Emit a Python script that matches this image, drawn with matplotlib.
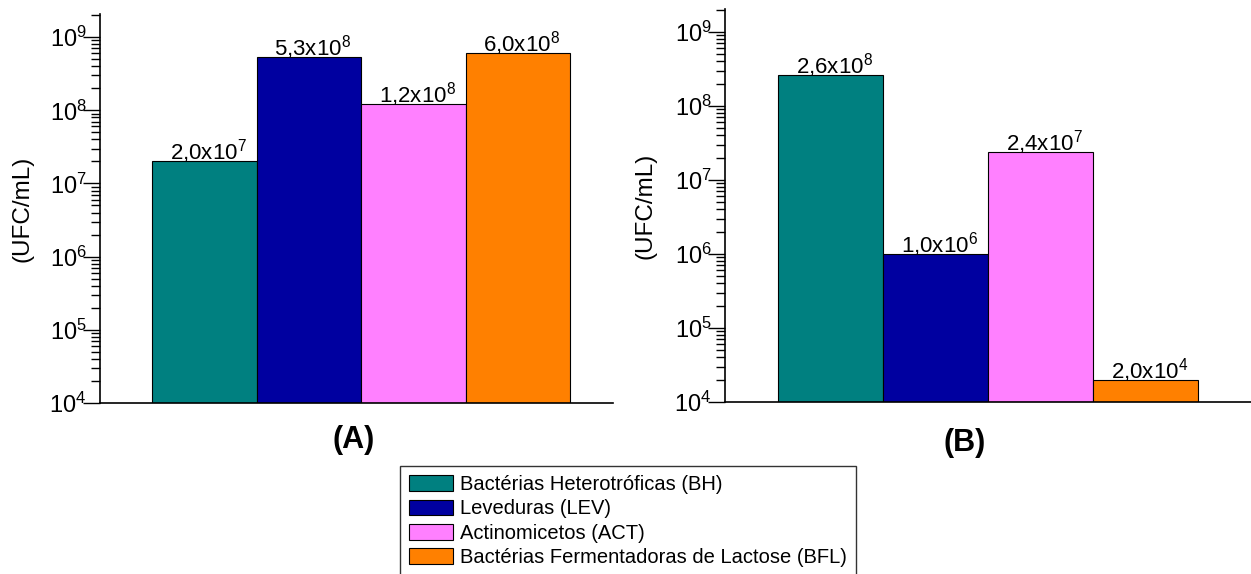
import matplotlib
matplotlib.use("Agg")
import matplotlib.pyplot as plt
import matplotlib.transforms as mtransforms
import numpy as np
from matplotlib.ticker import LogLocator, FixedLocator, NullFormatter

plt.rcParams['font.family'] = ['Liberation Sans', 'DejaVu Sans']
plt.rcParams['mathtext.fontset'] = 'custom'
plt.rcParams['mathtext.rm'] = 'Liberation Sans'
plt.rcParams['mathtext.it'] = 'Liberation Sans:italic'
plt.rcParams['mathtext.bf'] = 'Liberation Sans:bold'

categories = ["Bactérias Heterotróficas (BH)", "Leveduras (LEV)",
              "Actinomicetos (ACT)", "Bactérias Fermentadoras de Lactose (BFL)"]
colors = ["#008080", "#0000A0", "#FF80FF", "#FF8000"]
values_A = [2.0e7, 5.3e8, 1.2e8, 6.0e8]
values_B = [2.6e8, 1.0e6, 2.4e7, 2.0e4]
labels_A = [r"$\mathregular{2{,}0x10^{7}}$", r"$\mathregular{5{,}3x10^{8}}$",
            r"$\mathregular{1{,}2x10^{8}}$", r"$\mathregular{6{,}0x10^{8}}$"]
labels_B = [r"$\mathregular{2{,}6x10^{8}}$", r"$\mathregular{1{,}0x10^{6}}$",
            r"$\mathregular{2{,}4x10^{7}}$", r"$\mathregular{2{,}0x10^{4}}$"]
exponents = [4, 5, 6, 7, 8, 9]
ytick_labels = [r"$\mathregular{10^{%d}}$" % e for e in exponents]
panel_titles = ["(A)", "(B)"]
ylabel = "(UFC/mL)"
base = 1e4

W, H = 1251, 574
DPI = 100
fig = plt.figure(figsize=(W / DPI, H / DPI), dpi=DPI)
PT = 72.0 / DPI  # points per pixel


def px_axes(l, r, top, bot):
    return fig.add_axes([l / W, 1 - bot / H, (r - l) / W, (bot - top) / H])


axA = px_axes(100, 613, 14, 403)
axB = px_axes(725, 1251, 9, 402)

for ax, vals, labs, xlim, ytop in [
    (axA, values_A, labels_A, (-1.0, 3.91), 10 ** 9.315),
    (axB, values_B, labels_B, (-1.0, 4.0), 10 ** 9.31),
]:
    x = np.arange(len(vals))
    heights = [v - base for v in vals]
    bars = ax.bar(x, heights, bottom=base, width=1.0, color=colors,
                  edgecolor="black", linewidth=0.8)
    ax.set_yscale("log")
    ax.set_ylim(base, ytop)
    ax.set_xlim(*xlim)
    lab_trans = mtransforms.offset_copy(ax.transData, fig=fig,
                                        x=4 * PT, y=1.7 * PT, units="points")
    for xi, v, lab in zip(x, vals, labs):
        ax.text(xi, v, lab, ha="center", va="baseline", fontsize=16,
                transform=lab_trans)
    ax.spines["top"].set_visible(False)
    ax.spines["right"].set_visible(False)
    ax.spines["left"].set_linewidth(1.2)
    ax.spines["bottom"].set_linewidth(1.2)
    ax.set_xticks([])
    ax.yaxis.set_major_locator(FixedLocator([10.0 ** e for e in exponents]))
    ax.yaxis.set_major_formatter(NullFormatter())
    ax.yaxis.set_minor_locator(LogLocator(base=10, subs=np.arange(2, 10), numticks=20))
    ax.yaxis.set_minor_formatter(NullFormatter())
    ax.tick_params(axis="y", which="major", direction="out", length=17 * PT, width=1.0)
    ax.tick_params(axis="y", which="minor", direction="out", length=9 * PT, width=1.0)
    btrans = mtransforms.blended_transform_factory(ax.transAxes, ax.transData)
    for e, tl in zip(exponents, ytick_labels):
        ax.annotate(tl, xy=(0, 10.0 ** e), xycoords=btrans,
                    xytext=(-13.3 * PT, -10.3 * PT), textcoords="offset points",
                    ha="right", va="baseline", fontsize=17, annotation_clip=False)
    ax.set_ylabel(ylabel, fontsize=17.5)
    ax.patch.set_alpha(0)
    if ax is axA:
        handles = list(bars)

axA.yaxis.set_label_coords(-0.1305, 0.5)
axB.yaxis.set_label_coords(-0.131, 0.5)

fig.text(354 / W, 1 - 440 / H, panel_titles[0], ha="center", va="center",
         fontsize=22, fontweight="bold")
fig.text(965 / W, 1 - 443 / H, panel_titles[1], ha="center", va="center",
         fontsize=22, fontweight="bold")

leg = fig.legend(handles, categories, loc="upper left",
                 bbox_to_anchor=(400 / W, 1 - 466 / H), bbox_transform=fig.transFigure,
                 fontsize=14.5, frameon=True, fancybox=False, borderaxespad=0,
                 borderpad=0.45, handlelength=2.2, handleheight=0.83,
                 labelspacing=0.27, handletextpad=0.35)
leg.get_frame().set_edgecolor("black")
leg.get_frame().set_linewidth(1.0)

fig.savefig("out.png", dpi=DPI)
